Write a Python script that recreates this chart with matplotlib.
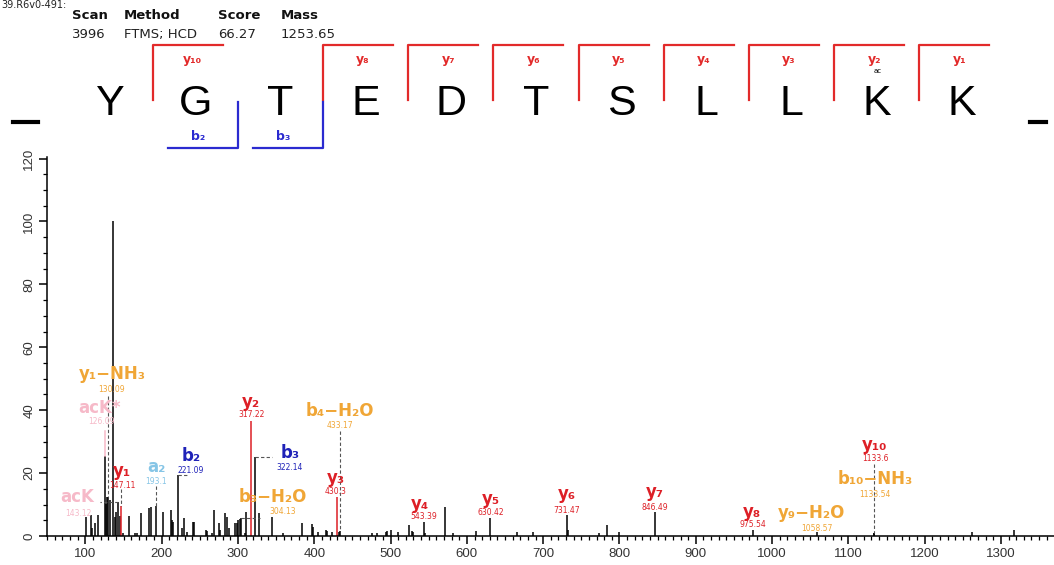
import matplotlib
matplotlib.use("Agg")
from matplotlib import pyplot as plt
from matplotlib.lines import Line2D
import matplotlib.ticker as mticker

W, H = 1054, 565

# header
header_keys = ["Scan", "Method", "Score", "Mass"]
header_vals = ["3996", "FTMS; HCD", "66.27", "1253.65"]

# peptide sequence and fragment brackets
sequence = ["Y", "G", "T", "E", "D", "T", "S", "L", "L", "K", "K"]
y_ions = {1: "y₁₀", 3: "y₈", 4: "y₇", 5: "y₆", 6: "y₅", 7: "y₄", 8: "y₃", 9: "y₂", 10: "y₁"}
b_ions = {2: "b₂", 3: "b₃"}

# unannotated spectrum peaks (m/z, relative intensity)
peak_mz = [100.8, 106.9, 108.5, 112.6, 116.9, 127.6, 128.7, 132.2, 136.08, 138.5,
           140.1, 145.3, 149.7, 157.6, 165.0, 168.0, 172.9, 183.7, 185.5, 201.3,
           211.8, 213.5, 215.2, 226.2, 229.2, 232.7, 240.6, 242.3, 257.6, 259.0,
           265.9, 269.0, 275.1, 276.4, 283.4, 285.1, 288.6, 296.1, 298.3, 300.6,
           302.6, 309.2, 310.8, 327.5, 344.2, 358.6, 383.5, 396.6, 397.9, 405.2,
           415.3, 417.0, 423.6, 432.0, 475.2, 481.8, 493.5, 494.9, 500.1, 510.1,
           524.1, 527.6, 528.9, 545.5, 571.3, 582.2, 611.9, 666.0, 687.0, 733.0,
           773.1, 783.2, 799.3, 1261.7, 1317.0]
peak_int = [6.1, 6.6, 2.5, 4.2, 6.6, 10.3, 12.4, 11.4, 100.0, 6.0,
            7.7, 6.5, 0.8, 6.3, 1.0, 0.8, 7.2, 8.8, 9.3, 7.7,
            8.4, 5.0, 4.5, 2.4, 5.6, 1.4, 4.5, 4.5, 1.9, 1.7,
            0.8, 8.4, 4.2, 1.9, 7.2, 6.1, 2.4, 4.0, 4.2, 5.0,
            5.3, 0.8, 7.7, 7.2, 5.9, 1.0, 4.2, 3.8, 3.0, 1.4,
            1.9, 1.7, 1.4, 1.2, 0.8, 0.8, 1.4, 1.7, 1.9, 1.4,
            3.5, 1.7, 1.4, 1.0, 9.3, 0.8, 1.5, 1.4, 1.4, 1.9,
            0.8, 3.5, 1.4, 1.3, 1.8]

# annotated fragment ions
ion_names = ["y₁−NH₃", "acK*", "acK", "y₁", "a₂", "b₂", "y₂", "b₃", "b₃−H₂O",
             "b₄−H₂O", "y₃", "y₄", "y₅", "y₆", "y₇", "y₈", "y₉−H₂O", "y₁₀", "b₁₀−NH₃"]
ion_mz = [130.09, 126.09, 143.12, 147.11, 193.1, 221.09, 317.22, 322.14, 304.13,
          433.17, 430.3, 543.39, 630.42, 731.47, 846.49, 975.54, 1058.57, 1133.6, 1133.54]
ion_int = [12.3, 25.3, 10.8, 9.5, 9.5, 19.3, 36.7, 25.1, 5.6,
           1.5, 12.5, 4.5, 5.6, 6.6, 7.7, 1.9, 1.3, 0.8, 0.8]
ion_kind = ["loss", "ack", "ack", "y", "a", "b", "y", "b", "loss",
            "loss", "y", "y", "y", "y", "y", "y", "loss", "y", "loss"]

# layout: label position, m/z text position, connector
label_pos = [(134.9, 51.6), (119.1, 40.8), (89, 12.3), (148, 20.6), (192.5, 21.8),
             (238.4, 25.3), (317.2, 42.6), (368.2, 26.3), (346, 12.3), (433.8, 39.9),
             (428.4, 18.4), (538.4, 10.1), (631.6, 11.7), (731.1, 13.3), (846.5, 13.9),
             (973.6, 7.6), (1052, 7.3), (1134.9, 28.8), (1134.9, 18.0)]
mz_pos = [(134.9, 46.5), (121.7, 36.4), (90.3, 7.3), (148, 16.1), (192.5, 17.4),
          (238.4, 20.9), (317.2, 38.6), (368.2, 21.8), (359, 7.9), (433.8, 35.1),
          (428.4, 14.2), (543.6, 6.3), (631.6, 7.6), (731.1, 8.2), (846.5, 9.2),
          (975, 3.5), (1058.6, 2.5), (1134.9, 24.7), (1134.9, 13.3)]
connector = [("v", 44.5), ("solid", 33.5), ("h", 119), ("v", 14.8), ("v", 16.0),
             ("h", 236), None, ("h", 345), ("h", 329), ("v", 33.5),
             None, None, None, None, None, None, None, ("v", 23.0), None]

colors = {"y": "#dd1f26", "b": "#1f22b8", "a": "#86c5e6", "loss": "#f0a636", "ack": "#f6b9c8"}
colored_peaks = {"y₁", "y₂", "y₃"}

fig = plt.figure(figsize=(W / 100, H / 100), dpi=100)


def fx(x):
    return x / W


def fy(y):
    return 1 - y / H


# title line at the very top
fig.text(fx(1), fy(0), "39.R6v0-491:", fontsize=7, color="#222", va="top", ha="left")

# header table
for i, xp in enumerate([72, 124, 218, 281]):
    fig.text(fx(xp), fy(19), header_keys[i], fontsize=9.5, fontweight="bold", color="#111",
             va="baseline", ha="left")
    fig.text(fx(xp), fy(38), header_vals[i], fontsize=9.5, color="#222", va="baseline", ha="left")

# sequence
step = 85.2
x0 = 110
for i, aa in enumerate(sequence):
    fig.text(fx(x0 + i * step), fy(115), aa, fontsize=31, family="Liberation Sans",
             ha="center", va="baseline", color="black")

red = "#e22a2a"
blue = "#2b2bd0"
for cut, name in y_ions.items():
    cx = x0 + (cut - 0.5) * step
    fig.add_artist(Line2D([fx(cx), fx(cx), fx(cx + 70)], [fy(100), fy(45), fy(45)],
                          transform=fig.transFigure, color=red, lw=1.6))
    fig.text(fx(cx + 40), fy(59), name, fontsize=9, fontweight="bold", color=red,
             ha="center", va="center")
    if name == "y₂":
        fig.text(fx(cx + 43), fy(71), "ac", fontsize=5, color="black", ha="center", va="center")
for cut, name in b_ions.items():
    cx = x0 + (cut - 0.5) * step
    fig.add_artist(Line2D([fx(cx), fx(cx), fx(cx - 70)], [fy(102), fy(148), fy(148)],
                          transform=fig.transFigure, color=blue, lw=1.6))
    fig.text(fx(cx - 40), fy(136), name, fontsize=9, fontweight="bold", color=blue,
             ha="center", va="center")

# termini marks
fig.add_artist(Line2D([fx(13), fx(38)], [fy(122), fy(122)], transform=fig.transFigure,
                      color="black", lw=3))
fig.add_artist(Line2D([fx(1030), fx(1046)], [fy(122), fy(122)], transform=fig.transFigure,
                      color="black", lw=3))

# spectrum
ax = fig.add_axes([fx(47), (H - 536) / H, (W - 47) / W, (536 - 157) / H])
ax.vlines(peak_mz, 0, peak_int, color="black", lw=1.1)
for name, mz, inten, kind in zip(ion_names, ion_mz, ion_int, ion_kind):
    c = colors[kind] if name in colored_peaks else "black"
    ax.vlines(mz, 0, inten, color=c, lw=1.1)

for i, name in enumerate(ion_names):
    c = colors[ion_kind[i]]
    lx, ly = label_pos[i]
    mx, my = mz_pos[i]
    ax.text(lx, ly, name, fontsize=12, fontweight="bold", color=c, ha="center", va="center",
            clip_on=False)
    ax.text(mx, my, f"{ion_mz[i]:g}", fontsize=5.5, color=c, ha="center", va="center",
            clip_on=False)
    conn = connector[i]
    if conn is None:
        continue
    kind, val = conn
    if kind == "v":
        ax.plot([ion_mz[i], ion_mz[i]], [val, ion_int[i]], ls=(0, (3, 2)), color="#555", lw=0.8)
    elif kind == "h":
        ax.plot([ion_mz[i], val], [ion_int[i], ion_int[i]], ls=(0, (3, 2)), color="#555", lw=0.8)
    else:
        ax.plot([ion_mz[i], ion_mz[i]], [val, ion_int[i]], color=c, lw=1.1)

ax.set_xlim(49.7, 1369.5)
ax.set_ylim(0, 120.5)
ax.spines["top"].set_visible(False)
ax.spines["right"].set_visible(False)
ax.spines["left"].set_linewidth(1.1)
ax.spines["bottom"].set_linewidth(1.1)
ax.xaxis.set_major_locator(mticker.MultipleLocator(100))
ax.xaxis.set_minor_locator(mticker.MultipleLocator(10))
ax.yaxis.set_major_locator(mticker.MultipleLocator(20))
ax.yaxis.set_minor_locator(mticker.MultipleLocator(5))
ax.tick_params(which="major", direction="out", length=5.5, width=1.1, labelsize=9.5,
               labelcolor="#333")
ax.tick_params(which="minor", direction="out", length=3, width=0.9)
ax.tick_params(axis="x", pad=3)
ax.tick_params(axis="y", pad=3)
for lab in ax.get_xticklabels() + ax.get_yticklabels():
    lab.set_family("Liberation Sans")
for lab in ax.get_yticklabels():
    lab.set_rotation(90)
    lab.set_va("center")

plt.savefig("out.png", dpi=100)
